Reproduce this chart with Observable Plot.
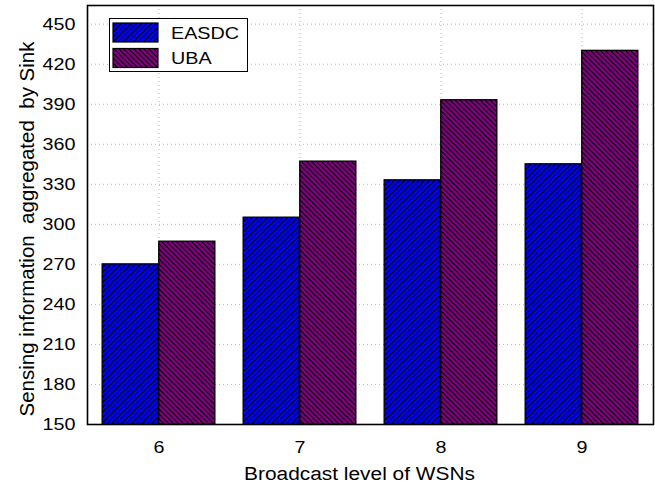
<!DOCTYPE html>
<html>
<head>
<meta charset="utf-8">
<script src="https://cdn.jsdelivr.net/npm/d3@7"></script>
<script src="https://cdn.jsdelivr.net/npm/@observablehq/plot@0.6"></script>
<style>
  html, body { margin: 0; padding: 0; background: #fff; }
  #chart { width: 655px; height: 490px; }
  #chart svg text { font-family: 'Liberation Sans', Arial, sans-serif; }
</style>
</head>
<body>
<div id="chart"></div>
<script>
// ---- data ----
const categories = [6, 7, 8, 9];
const series = ["EASDC", "UBA"];
const easdcValues = [270, 305, 333, 345];
const ubaValues = [287, 347, 393, 430];
const yTicks = [150, 180, 210, 240, 270, 300, 330, 360, 390, 420, 450];
const yDomain = [150, 464];
const xTitle = "Broadcast level of WSNs";
const yTitle = "Sensing information  aggregated  by Sink";
const seriesColors = ["#0000ff", "#800080"];
const patternIds = ["hatchEASDC", "hatchUBA"];

const rows = categories.flatMap((c, i) => [
  {cat: c, series: series[0], value: easdcValues[i]},
  {cat: c, series: series[1], value: ubaValues[i]}
]);

const W = 655, H = 490;
const mL = 87, mR = 2, mT = 5, mB = 66;
const bw = (W - mL - mR) / categories.length;
const STRETCH = 1.16; // horizontal text stretch seen in the reference

const plot = Plot.plot({
  width: W,
  height: H,
  marginLeft: mL,
  marginRight: mR,
  marginTop: mT,
  marginBottom: mB,
  style: {fontFamily: "'Liberation Sans', Arial, sans-serif", fontSize: "17px", color: "#000", background: "#fff"},
  x: {type: "band", domain: categories, padding: 0, label: null},
  y: {domain: yDomain, label: null},
  marks: [
    Plot.gridY(yTicks, {stroke: "#b8b8b8", strokeOpacity: 1, strokeDasharray: "1,3"}),
    Plot.gridX({stroke: "#b8b8b8", strokeOpacity: 1, strokeDasharray: "1,3"}),
    Plot.barY(rows.filter(d => d.series === series[0]), {
      x: "cat", y1: yDomain[0], y2: "value",
      fill: `url(#${patternIds[0]})`, stroke: "#000", strokeWidth: 1.3,
      insetLeft: bw * 0.1, insetRight: bw * 0.5
    }),
    Plot.barY(rows.filter(d => d.series === series[1]), {
      x: "cat", y1: yDomain[0], y2: "value",
      fill: `url(#${patternIds[1]})`, stroke: "#000", strokeWidth: 1.3,
      insetLeft: bw * 0.5, insetRight: bw * 0.1
    }),
    Plot.axisY(yTicks, {tickSize: 0, tickPadding: 12, fontSize: 17, label: null}),
    Plot.axisX({tickSize: 0, tickPadding: 16, fontSize: 17, label: null}),
    Plot.frame({stroke: "#000", strokeWidth: 1.6}),
    Plot.text([xTitle], {frameAnchor: "bottom", lineAnchor: "middle", textAnchor: "middle", dx: -11, dy: 50, fontSize: 18, text: d => d}),
    Plot.text([yTitle], {frameAnchor: "left", lineAnchor: "middle", textAnchor: "middle", rotate: -90, dx: -60, dy: 14, fontSize: 20.5, text: d => d})
  ]
});

// hatch patterns
const svg = d3.select(plot);
const defs = svg.insert("defs", ":first-child");
function hatch(id, color, dir) {
  const s = 5;
  const p = defs.append("pattern")
    .attr("id", id).attr("patternUnits", "userSpaceOnUse")
    .attr("width", s).attr("height", s);
  p.append("rect").attr("width", s).attr("height", s).attr("fill", color);
  const d = dir > 0
    ? `M-1,1 l2,-2 M0,${s} l${s},-${s} M${s-1},${s+1} l2,-2`
    : `M-1,${s-1} l2,2 M0,0 l${s},${s} M${s-1},-1 l2,2`;
  p.append("path").attr("d", d).attr("stroke", "#000").attr("stroke-width", 1.05);
}
hatch(patternIds[0], seriesColors[0], 1);
hatch(patternIds[1], seriesColors[1], -1);

// legend (inside plot area, top-left)
const lg = svg.append("g");
lg.append("rect").attr("x", 109.5).attr("y", 18.5).attr("width", 138).attr("height", 53)
  .attr("fill", "#fff").attr("stroke", "#000").attr("stroke-width", 1);
series.forEach((s, i) => {
  const y0 = 23 + i * 25.5;
  lg.append("rect").attr("x", 113).attr("y", y0).attr("width", 45).attr("height", 19)
    .attr("fill", `url(#${patternIds[i]})`).attr("stroke", "#000").attr("stroke-width", 1.2);
  lg.append("text").attr("x", 171).attr("y", y0 + 15.5).attr("font-size", 17)
    .attr("text-anchor", "start").attr("fill", "#000").text(s);
});

document.getElementById("chart").appendChild(plot);

// widen horizontal texts to match the reference's glyph proportions
svg.selectAll("text").each(function() {
  if (this.textContent === yTitle) return;
  const len = this.getComputedTextLength();
  if (len > 0) {
    this.setAttribute("textLength", (len * STRETCH).toFixed(2));
    this.setAttribute("lengthAdjust", "spacingAndGlyphs");
  }
});
</script>
</body>
</html>
